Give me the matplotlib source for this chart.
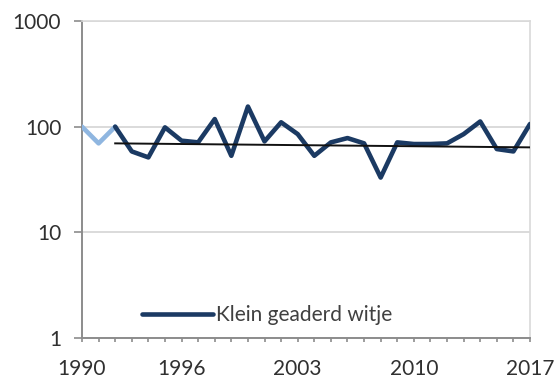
import numpy as np
import matplotlib.pyplot as plt

years = list(range(1990, 2018))
values = [100, 69.5, 100, 58.3, 51.2, 98.5, 73.7, 71, 118, 53,
          155, 72.6, 110, 85, 53, 71, 78, 69.5, 33, 71,
          68.5, 68.5, 69.5, 85, 112, 61.4, 58.3, 106]
n_light = 3  # eerste jaren lichtblauw
trend_years = [1992, 2017]
trend_values = [69.5, 63.7]
xtick_years = [1990, 1996, 2003, 2010, 2017]
series_label = "Klein geaderd witje"

plt.rcParams['font.family'] = ['Lato', 'DejaVu Sans']

fig = plt.figure(figsize=(5.56, 3.79), dpi=100)
ax = fig.add_axes([82 / 556, 1 - 338 / 379, 448 / 556, 317 / 379])

dark = "#1b3a63"
light = "#8fb6e0"

ax.plot(years[:n_light], values[:n_light], color=light, lw=3.3,
        solid_joinstyle='round', solid_capstyle='round', zorder=3)
ax.plot(years[n_light - 1:], values[n_light - 1:], color=dark, lw=3.3,
        solid_joinstyle='round', solid_capstyle='round', zorder=3,
        label=series_label)
ax.plot(trend_years, trend_values, color="#111111", lw=1.4, zorder=4)

ax.set_yscale('log')
ax.set_ylim(1, 1000)
ax.set_xlim(1990, 2017)
ax.set_yticks([1, 10, 100, 1000])
ax.set_yticklabels(["1", "10", "100", "1000"])
ax.yaxis.set_minor_locator(plt.NullLocator())
ax.set_xticks(xtick_years)
ax.set_xticks(years, minor=True)

ax.grid(axis='y', color="#d4d4d4", lw=1.2, zorder=0)

for s in ['top', 'right']:
    ax.spines[s].set_color("#d9d9d9")
    ax.spines[s].set_linewidth(1.2)
for s in ['left', 'bottom']:
    ax.spines[s].set_color("#8c8c8c")
    ax.spines[s].set_linewidth(1.4)

ax.tick_params(axis='y', which='major', length=6, width=1.2, color="#8c8c8c",
               labelsize=15, labelcolor="#303030", pad=9)
ax.tick_params(axis='x', which='major', length=3, width=1.2, color="#8c8c8c",
               labelsize=15, labelcolor="#303030", pad=12)
ax.tick_params(axis='x', which='minor', length=3, width=1.2, color="#8c8c8c")

leg = ax.legend(loc='center left', bbox_to_anchor=(0.134, 0.073),
                frameon=False, fontsize=15, handlelength=3.4,
                handletextpad=0.15, borderpad=0, borderaxespad=0)
for t in leg.get_texts():
    t.set_color("#404040")

fig.savefig("out.png", dpi=100)
